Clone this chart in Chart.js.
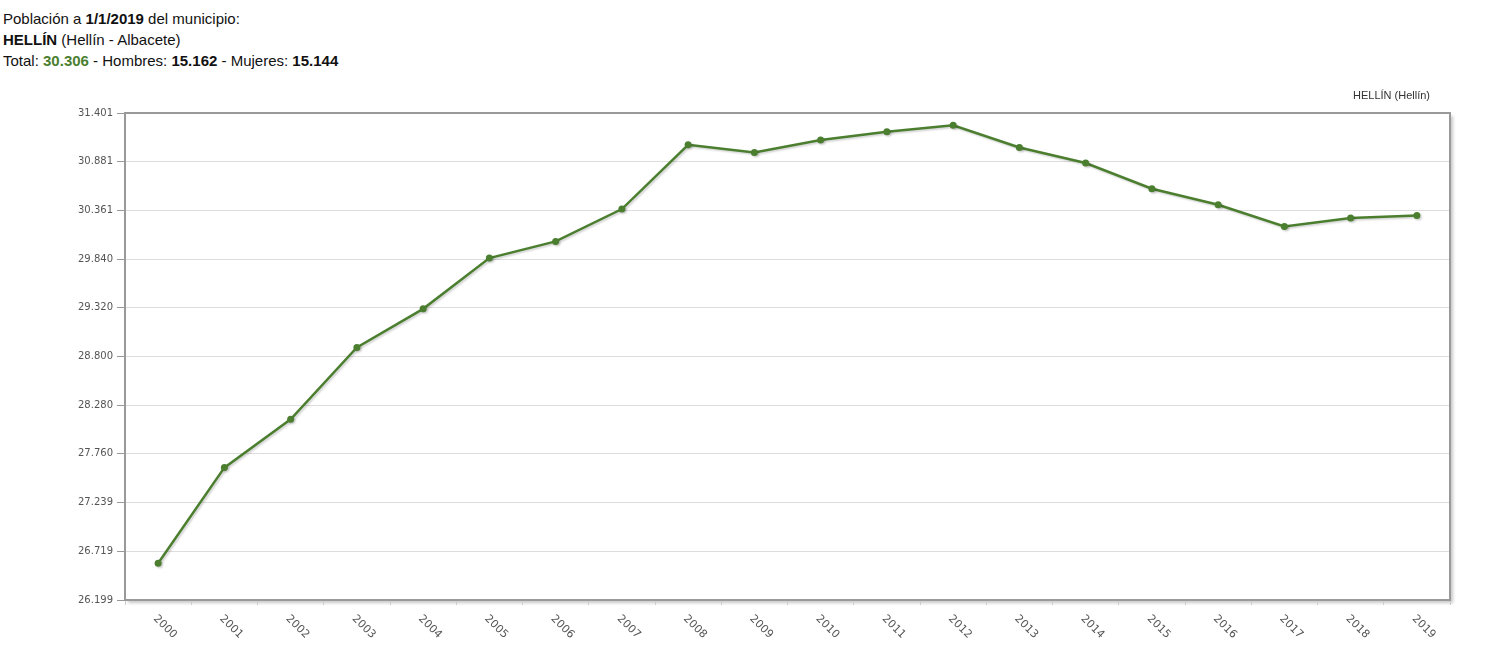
<!DOCTYPE html>
<html>
<head>
<meta charset="utf-8">
<script src="https://cdn.jsdelivr.net/npm/chart.js@4/dist/chart.umd.min.js"></script>
<style>
  body { margin: 0; background: #fff; }
  #info { font-family: "Liberation Sans", Arial, sans-serif; font-size: 15px; line-height: 21px; color: #111; padding: 8px 0 0 3px; height: 75px; box-sizing: border-box; }
  #info .green { color: #4b7f2f; font-weight: bold; }
  #wrap { position: absolute; left: 0; top: 80px; width: 1500px; height: 568px; }
</style>
</head>
<body>
<div id="info">
  Población a <b>1/1/2019</b> del municipio:<br>
  <b>HELLÍN</b> (Hellín - Albacete)<br>
  Total: <span class="green">30.306</span> - Hombres: <b>15.162</b> - Mujeres: <b>15.144</b>
</div>
<div id="wrap"><canvas id="chart"></canvas></div>
<script>
// años y población
const years = ["2000", "2001", "2002", "2003", "2004", "2005", "2006", "2007", "2008", "2009",
  "2010", "2011", "2012", "2013", "2014", "2015", "2016", "2017", "2018", "2019"];
const population = [26591, 27613, 28130, 28896, 29309, 29851, 30029, 30375, 31062, 30980,
  31112, 31201, 31269, 31033, 30867, 30592, 30421, 30189, 30279, 30306];
const yTicks = [26199, 26719.2, 27239.4, 27759.6, 28279.8, 28800, 29320.2, 29840.4, 30360.6, 30880.8, 31401];
const seriesName = "HELLÍN (Hellín)";

const lineColor = "#4b7f2f";
const fmt = (v) => Math.round(v).toString().replace(/\B(?=(\d{3})+(?!\d))/g, ".");

// fondo con sombra, marco, leyenda y etiquetas giradas del eje x
const jqStyle = {
  id: "jqStyle",
  beforeDraw(chart) {
    const { ctx, chartArea: a } = chart;
    ctx.save();
    ctx.shadowColor = "rgba(0,0,0,0.22)";
    ctx.shadowOffsetX = 3;
    ctx.shadowOffsetY = 3;
    ctx.shadowBlur = 3;
    ctx.fillStyle = "#fff";
    ctx.fillRect(a.left, a.top, a.right - a.left, a.bottom - a.top);
    ctx.restore();
  },
  beforeDatasetDraw(chart) {
    const ctx = chart.ctx;
    ctx.save();
    ctx.shadowColor = "rgba(0,0,0,0.18)";
    ctx.shadowOffsetX = 1.5;
    ctx.shadowOffsetY = 1.5;
    ctx.shadowBlur = 2;
  },
  afterDatasetDraw(chart) {
    chart.ctx.restore();
  },
  afterDraw(chart) {
    const { ctx, chartArea: a, scales } = chart;
    ctx.save();
    ctx.strokeStyle = "#999";
    ctx.lineWidth = 2;
    ctx.beginPath();
    ctx.moveTo(a.left, a.top);
    ctx.lineTo(a.right, a.top);
    ctx.lineTo(a.right, a.bottom);
    ctx.stroke();

    // leyenda
    ctx.fillStyle = "#333";
    ctx.font = "11px 'Liberation Sans', Arial, sans-serif";
    ctx.textAlign = "right";
    ctx.textBaseline = "middle";
    ctx.fillText(seriesName, a.right - 20, a.top - 17);

    // etiquetas eje x
    ctx.fillStyle = "#555";
    ctx.font = "11px 'DejaVu Sans', Verdana, sans-serif";
    ctx.textAlign = "left";
    ctx.textBaseline = "middle";
    years.forEach((y, i) => {
      const x = scales.x.getPixelForValue(i);
      ctx.save();
      ctx.translate(x - 3, a.bottom + 17);
      ctx.rotate(Math.PI / 4);
      ctx.fillText(y, 0, 0);
      ctx.restore();
    });
    ctx.restore();
  }
};

new Chart(document.getElementById("chart"), {
  type: "line",
  data: {
    labels: years,
    datasets: [{
      label: seriesName,
      data: population,
      borderColor: lineColor,
      backgroundColor: lineColor,
      borderWidth: 2.5,
      pointRadius: 3.5,
      pointHoverRadius: 4,
      pointBackgroundColor: lineColor,
      pointBorderWidth: 0,
      tension: 0,
      fill: false
    }]
  },
  options: {
    responsive: true,
    maintainAspectRatio: false,
    animation: false,
    layout: { padding: { top: 33, right: 50, left: 0, bottom: 0 } },
    plugins: {
      legend: { display: false },
      tooltip: { enabled: false }
    },
    scales: {
      x: {
        offset: true,
        grid: { offset: true, drawOnChartArea: false, drawTicks: true, tickLength: 5, color: "#ccc" },
        border: { display: true, color: "#999", width: 2 },
        ticks: { color: "rgba(0,0,0,0)", minRotation: 45, maxRotation: 45 },
        afterFit(scale) { scale.height = 48; }
      },
      y: {
        min: 26199,
        max: 31401,
        afterBuildTicks(scale) { scale.ticks = yTicks.map(v => ({ value: v })); },
        afterFit(scale) { scale.width = 125; },
        grid: { color: "#ddd", lineWidth: 1, tickLength: 8, tickColor: "#999" },
        border: { display: true, color: "#999", width: 2 },
        ticks: {
          color: "#555",
          padding: 4,
          font: { family: "'DejaVu Sans', Verdana, sans-serif", size: 10 },
          callback: (v) => fmt(v)
        }
      }
    }
  },
  plugins: [jqStyle]
});
</script>
</body>
</html>
